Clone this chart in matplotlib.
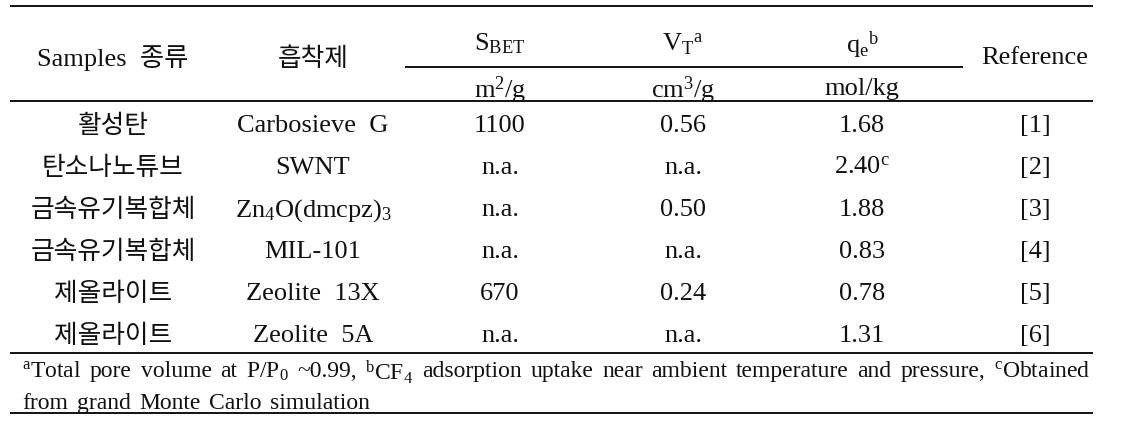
import matplotlib
matplotlib.use('Agg')
import matplotlib.pyplot as plt

plt.rcParams['mathtext.fontset'] = 'custom'
plt.rcParams['mathtext.rm'] = 'Liberation Serif'
plt.rcParams['mathtext.it'] = 'Liberation Serif:italic'
plt.rcParams['mathtext.bf'] = 'Liberation Serif:bold'

# table contents
headers = ['Samples  종류', '흡착제', 'S$_{\\rm BET}$', 'V$_{\\rm T}$$^{\\rm a}$',
           'q$_{\\rm e}$$^{\\rm b}$', 'Reference']
units = ['m$^2$/g', 'cm$^3$/g', 'mol/kg']
sample_types = ['활성탄', '탄소나노튜브', '금속유기복합체', '금속유기복합체',
                '제올라이트', '제올라이트']
adsorbents = ['Carbosieve  G', 'SWNT', 'Zn$_4$O(dmcpz)$_3$', 'MIL-101',
              'Zeolite  13X', 'Zeolite  5A']
s_bet = ['1100', 'n.a.', 'n.a.', 'n.a.', '670', 'n.a.']
v_t = ['0.56', 'n.a.', '0.50', 'n.a.', '0.24', 'n.a.']
q_e = ['1.68', '2.40$^{\\rm c}$', '1.88', '0.83', '0.78', '1.31']
refs = ['[1]', '[2]', '[3]', '[4]', '[5]', '[6]']
note1 = ['$^{\\rm a}$Total', 'pore', 'volume', 'at', 'P/P$_0$', '~0.99,',
         '$^{\\rm b}$CF$_4$', 'adsorption', 'uptake', 'near', 'ambient',
         'temperature', 'and', 'pressure,', '$^{\\rm c}$Obtained']
note2 = ['from', 'grand', 'Monte', 'Carlo', 'simulation']

W, H = 1122, 432
fig = plt.figure(figsize=(W / 100, H / 100), dpi=100)
ax = fig.add_axes([0, 0, 1, 1])
ax.set_xlim(0, W)
ax.set_ylim(H, 0)
ax.axis('off')

SERIF = ['Liberation Serif', 'Noto Sans CJK KR']
KR = 'Noto Sans CJK KR'
FS = 19
KFS = 18.5
col_x = [113, 313, 500, 683, 862, 1035]
x_left, x_right = 10, 1093
row0, row_h = 123, 42

def put(x, y, s, family=SERIF, size=FS, ha='center'):
    return ax.text(x, y, s, family=family, fontsize=size, ha=ha,
                   va='center_baseline', color='#111111')

# rules
lw = 1.3
ax.hlines(6, x_left, x_right, color='black', lw=lw)
ax.hlines(67, 405, 963, color='black', lw=lw)
ax.hlines(101, x_left, x_right, color='black', lw=lw)
n = len(sample_types)
y_end = row0 + (n - 1) * row_h + 20
ax.hlines(y_end, x_left, x_right, color='black', lw=lw)
ax.hlines(413, x_left, x_right, color='black', lw=lw)

# header
put(col_x[0], 56, headers[0])
put(col_x[1], 56, headers[1], family=[KR], size=KFS)
for i in range(3):
    put(col_x[2 + i], 41, headers[2 + i])
    put(col_x[2 + i], 86, units[i])
put(col_x[5], 56, headers[5])

# body
for i in range(n):
    y = row0 + i * row_h
    put(col_x[0], y, sample_types[i], family=[KR], size=KFS)
    put(col_x[1], y, adsorbents[i])
    put(col_x[2], y, s_bet[i])
    put(col_x[3], y, v_t[i])
    put(col_x[4], y, q_e[i])
    put(col_x[5], y, refs[i])

# footnote, justified across the table width
NFS = 17
fig.canvas.draw()
r = fig.canvas.get_renderer()
words = [put(0, y_end + 16, w, size=NFS, ha='left') for w in note1]
widths = [t.get_window_extent(r).width for t in words]
gap = (1090 - 22 - sum(widths)) / (len(words) - 1)
x = 22
for t, w in zip(words, widths):
    t.set_x(x)
    x += w + gap
x = 22
for w in note2:
    t = put(x, y_end + 48, w, size=NFS, ha='left')
    x += t.get_window_extent(r).width + gap

fig.savefig('out.png', dpi=100)
